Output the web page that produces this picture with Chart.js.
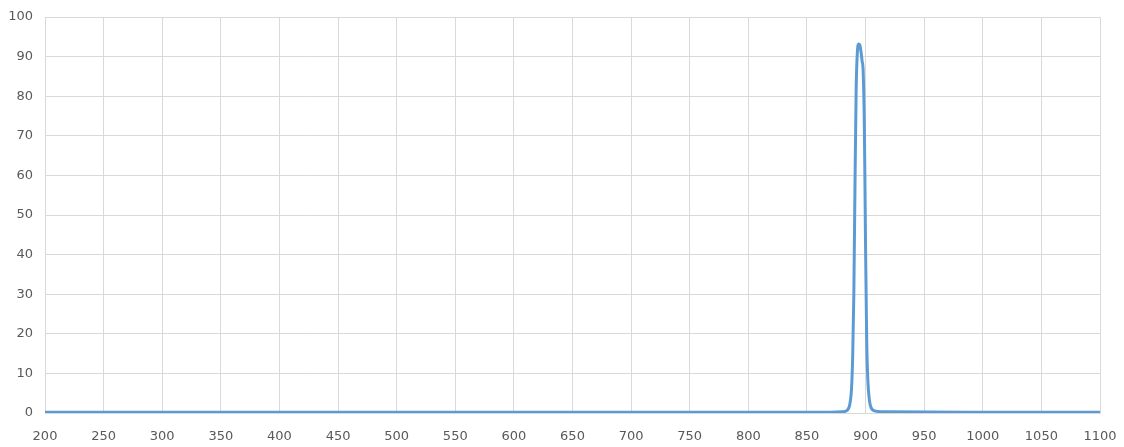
<!DOCTYPE html>
<html>
<head>
<meta charset="utf-8">
<script src="https://cdn.jsdelivr.net/npm/chart.js@4/dist/chart.umd.min.js"></script>
<style>
  html, body { margin: 0; padding: 0; background: #fff; }
  #wrap { width: 1124px; height: 447px; }
</style>
</head>
<body>
<div id="wrap"><canvas id="specChart" width="1124" height="447"></canvas></div>
<script>
// длины волн (нм) и пропускание (%)
const wavelengths = [200, 500, 800, 870, 880, 884, 886, 887, 888, 889, 890, 891, 892, 893, 894, 895, 896, 897, 898, 899, 900, 901, 902, 903, 904, 906, 910, 920, 1000, 1100];
const transmission = [0.2, 0.2, 0.2, 0.2, 0.3, 0.6, 1.5, 3, 6, 14, 30, 58, 82, 91, 93.2, 93, 91.5, 89, 86, 72, 42, 18, 8, 4, 2, 0.8, 0.4, 0.3, 0.2, 0.2];
const xTicks = [200, 250, 300, 350, 400, 450, 500, 550, 600, 650, 700, 750, 800, 850, 900, 950, 1000, 1050, 1100];
const yTicks = [0, 10, 20, 30, 40, 50, 60, 70, 80, 90, 100];

const points = wavelengths.map((w, i) => ({ x: w, y: transmission[i] }));

const ctx = document.getElementById('specChart');
new Chart(ctx, {
    type: 'line',
    data: {
        datasets: [{
            data: points,
            borderColor: '#5B9BD5',
            borderWidth: 3,
            pointRadius: 0,
            fill: false,
            cubicInterpolationMode: 'monotone'
        }]
    },
    options: {
        responsive: false,
        animation: false,
        layout: { padding: { left: 0, right: 24, top: 17, bottom: 0 } },
        plugins: { legend: { display: false }, tooltip: { enabled: false } },
        scales: {
            x: {
                type: 'linear',
                min: 200, max: 1100,
                afterBuildTicks: s => { s.ticks = xTicks.map(v => ({ value: v })); },
                afterFit: s => { s.height = 34; s.paddingLeft = 0; s.paddingRight = 0; },
                grid: { color: '#d9d9d9', lineWidth: 1, drawTicks: false },
                border: { color: '#d9d9d9' },
                ticks: { color: '#595959', padding: 16, maxRotation: 0, autoSkip: false, callback: v => String(v), font: { family: 'DejaVu Sans', size: 13 } }
            },
            y: {
                min: 0, max: 100,
                afterBuildTicks: s => { s.ticks = yTicks.map(v => ({ value: v })); },
                afterFit: s => { s.width = 45; s.paddingTop = 0; s.paddingBottom = 0; },
                grid: { color: '#d9d9d9', lineWidth: 1, drawTicks: false },
                border: { color: '#d9d9d9' },
                ticks: { color: '#595959', padding: 12, callback: v => String(v), font: { family: 'DejaVu Sans', size: 13 } }
            }
        }
    }
});
</script>
</body>
</html>
